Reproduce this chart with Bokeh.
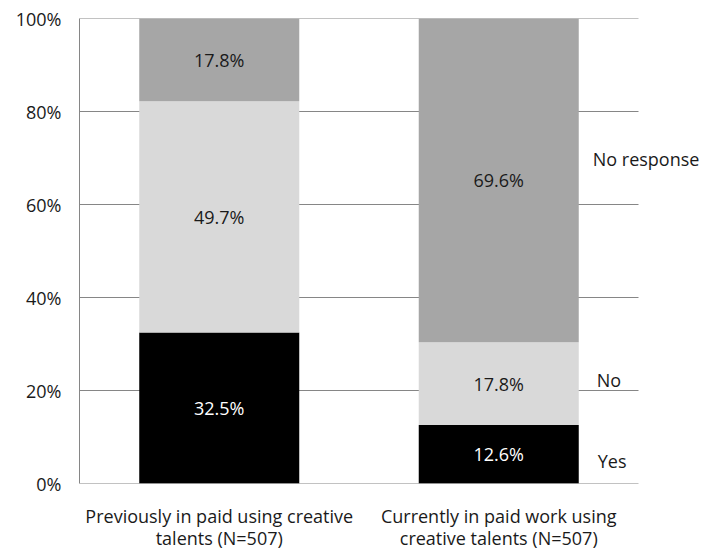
from bokeh.plotting import figure
from bokeh.models import Range1d, FixedTicker, PrintfTickFormatter, ColumnDataSource
from bokeh.core.properties import value
from bokeh.embed import file_html
from bokeh.resources import INLINE

categories = ["Previously in paid using creative\ntalents (N=507)",
              "Currently in paid work using\ncreative talents (N=507)"]
series = ["Yes", "No", "No response"]
yes_vals = [32.5, 12.6]
no_vals = [49.7, 17.8]
noresp_vals = [17.8, 69.6]
y_ticks = [0, 20, 40, 60, 80, 100]

colors = ["#000000", "#d9d9d9", "#a6a6a6"]
text_colors = ["#ffffff", "#1a1a1a", "#1a1a1a"]
FONT = "Open Sans"
GRID = "#868686"

xs = [0.5 + i for i in range(len(categories))]
bar_w = 0.5725
px_per_unit = 279.5
frame_w = 702 - 79

p = figure(width=702, height=553, output_backend="svg", toolbar_location=None,
           x_range=Range1d(0, frame_w / px_per_unit), y_range=Range1d(0, 100),
           min_border_left=79, min_border_right=0, min_border_top=18, min_border_bottom=40)
p.outline_line_color = None
p.xgrid.visible = False
p.ygrid.visible = False
p.background_fill_color = "white"
p.border_fill_color = "white"

# gridlines and baseline, limited to the category span
n = len(categories)
p.segment(x0=[0] * len(y_ticks), x1=[n] * len(y_ticks), y0=y_ticks, y1=y_ticks,
          line_color=GRID, line_width=1)

src = ColumnDataSource(dict(x=xs, Yes=yes_vals, No=no_vals, **{"No response": noresp_vals}))
p.vbar_stack(series, x="x", width=bar_w, color=colors, source=src, line_color=None)

# value labels at segment centres
vals = [yes_vals, no_vals, noresp_vals]
for si, sv in enumerate(vals):
    bottoms = [sum(vals[k][i] for k in range(si)) for i in range(n)]
    centers = [b + v / 2 for b, v in zip(bottoms, sv)]
    labels = [f"{v:.1f}%" for v in sv]
    p.text(x=xs, y=centers, text=labels, text_align="center", text_baseline="middle",
           text_font=value(FONT), text_font_size="18px", text_color=text_colors[si])

# series names to the right of the last bar
last = n - 1
bottoms_last = [sum(vals[k][last] for k in range(si)) for si in range(3)]
centers_last = [b + vals[si][last] / 2 for si, b in enumerate(bottoms_last)]
p.text(x=[xs[last] + bar_w / 2] * 3, y=centers_last, text=series,
       x_offset=[19, 18, 14], y_offset=[7, -4, -21],
       text_align="left", text_baseline="middle",
       text_font=value(FONT), text_font_size="18px", text_color="#1a1a1a")

# axes
p.yaxis.ticker = FixedTicker(ticks=y_ticks)
p.yaxis.formatter = PrintfTickFormatter(format="%d%%")
p.yaxis.axis_line_color = GRID
p.yaxis.major_tick_line_color = None
p.yaxis.minor_tick_line_color = None
p.yaxis.major_label_standoff = 12
p.yaxis.major_label_text_font = FONT
p.yaxis.major_label_text_font_size = "18px"
p.yaxis.major_label_text_color = "#1a1a1a"

p.xaxis.ticker = FixedTicker(ticks=xs)
p.xaxis.major_label_overrides = {x: c for x, c in zip(xs, categories)}
p.xaxis.axis_line_color = None
p.xaxis.major_tick_line_color = None
p.xaxis.minor_tick_line_color = None
p.xaxis.major_label_standoff = 14
p.xaxis.major_label_text_font = FONT
p.xaxis.major_label_text_font_size = "18px"
p.xaxis.major_label_text_line_height = 0.95
p.xaxis.major_label_text_color = "#1a1a1a"
p.xaxis.major_label_text_align = "center"

open("out.html", "w").write(file_html(p, INLINE))
